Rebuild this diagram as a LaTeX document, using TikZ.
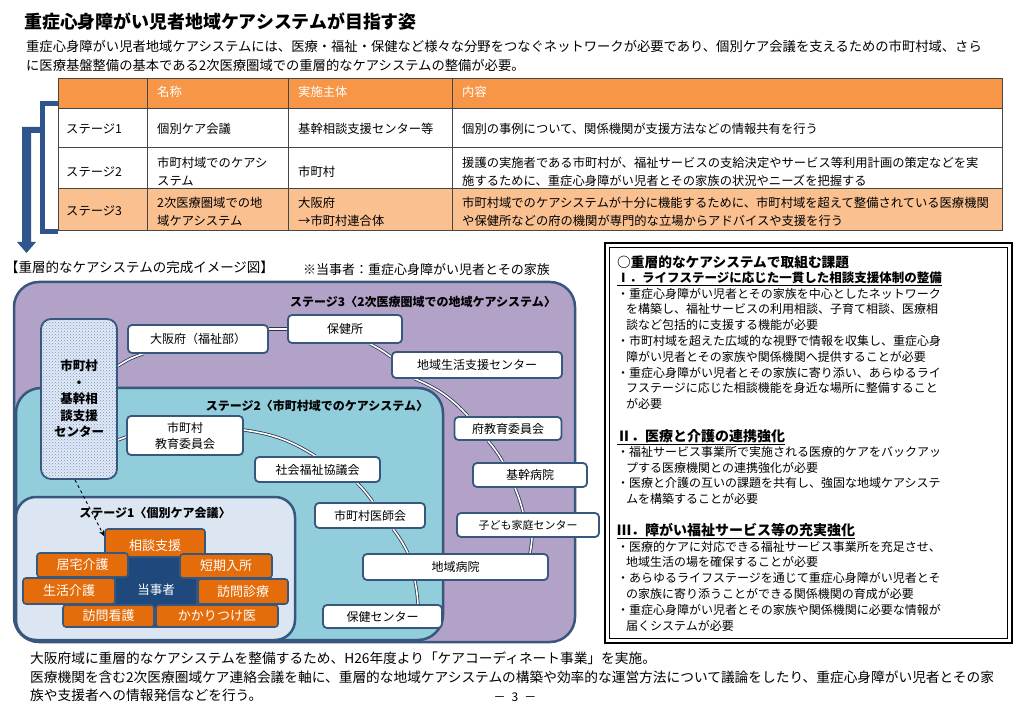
\documentclass[tikz,border=0pt]{standalone}
\usepackage{fontspec}
\setmainfont{Noto Sans CJK JP}
\usetikzlibrary{patterns,arrows.meta,calc}
\pgfdeclarelayer{bg}
\pgfdeclarelayer{panel}
\pgfdeclarelayer{lines}
\pgfsetlayers{bg,panel,lines,main}
\definecolor{hdr}{RGB}{247,150,70}
\definecolor{rowthree}{RGB}{250,192,144}
\definecolor{brk}{RGB}{47,85,140}
\definecolor{bd}{RGB}{56,87,125}
\definecolor{purp}{RGB}{179,162,199}
\definecolor{lblue}{RGB}{146,205,220}
\definecolor{pale}{RGB}{220,230,242}
\definecolor{orng}{RGB}{228,108,10}
\definecolor{navy}{RGB}{31,73,125}
\definecolor{dotc}{RGB}{120,150,200}
\definecolor{ctrfill}{RGB}{225,233,245}
\definecolor{gridc}{RGB}{70,70,70}
\definecolor{lnc}{RGB}{40,55,80}
\tikzset{
  fs/.style={font=\fontsize{#1}{#1}\selectfont},
  txt/.style={anchor=base west, inner sep=0pt},
  wbox/.style={draw=bd, line width=1.8pt, fill=white, rounded corners=4pt, inner sep=0pt, align=center, font=\fontsize{12}{16}\selectfont},
  obox/.style={draw=bd, line width=1.6pt, fill=orng, rounded corners=3pt, inner sep=0pt, text=white, font=\fontsize{13}{15}\selectfont},
  dline/.style={draw=lnc, double=white, double distance=1.6pt, line width=0.8pt},
  panelst/.style={draw=bd, line width=2.5pt},
}
\begin{document}
\begin{tikzpicture}[x=1pt,y=1pt]
\begin{pgfonlayer}{bg}
\fill[white] (0,0) rectangle (1023,-708);
\end{pgfonlayer}
\useasboundingbox (0,0) rectangle (1023,-708);

% ---------- title and intro
\node[txt, fs=17.9] (title) at (24,-28.8) {\bfseries 重症心身障がい児者地域ケアシステムが目指す姿};
\node[txt, fs=13.3] (intro1) at (26,-52) {重症心身障がい児者地域ケアシステムには、医療・福祉・保健など様々な分野をつなぐネットワークが必要であり、個別ケア会議を支えるための市町村域、さら};
\node[txt, fs=13.3] (intro2) at (26,-71) {に医療基盤整備の基本である2次医療圏域での重層的なケアシステムの整備が必要。};

% ---------- table
\fill[hdr] (58,-78) rectangle (1002,-108);
\fill[rowthree] (58,-188) rectangle (1002,-230);
\draw[gridc, line width=0.8pt] (58,-78) rectangle (1002,-230);
\draw[gridc, line width=0.8pt] (58,-108) -- (1002,-108) (58,-147) -- (1002,-147) (58,-188) -- (1002,-188);
\draw[gridc, line width=0.8pt] (147,-78) -- (147,-230) (288,-78) -- (288,-230) (452,-78) -- (452,-230);

\node[txt, fs=12.3, text=white] (th1) at (157,-96.7) {名称};
\node[txt, fs=12.3, text=white] (th2) at (298,-96.7) {実施主体};
\node[txt, fs=12.3, text=white] (th3) at (462,-96.7) {内容};

\node[txt, fs=12.3] (r1a) at (66,-133.7) {ステージ1};
\node[txt, fs=12.3] (r1b) at (157,-133.7) {個別ケア会議};
\node[txt, fs=12.3] (r1c) at (298,-133.7) {基幹相談支援センター等};
\node[txt, fs=12.3] (r1d) at (462,-133.7) {個別の事例について、関係機関が支援方法などの情報共有を行う};

\node[txt, fs=12.3] (r2a) at (66,-176.7) {ステージ2};
\node[txt, fs=12.3] (r2b) at (157,-167.7) {市町村域でのケアシ};
\node[txt, fs=12.3] (r2bb) at (157,-185.7) {ステム};
\node[txt, fs=12.3] (r2c) at (298,-176.7) {市町村};
\node[txt, fs=12.3] (r2d) at (462,-167.7) {援護の実施者である市町村が、福祉サービスの支給決定やサービス等利用計画の策定などを実};
\node[txt, fs=12.3] (r2dd) at (462,-185.7) {施するために、重症心身障がい児者とその家族の状況やニーズを把握する};

\node[txt, fs=12.3] (r3a) at (66,-215.7) {ステージ3};
\node[txt, fs=12.3] (r3b) at (157,-207.7) {2次医療圏域での地};
\node[txt, fs=12.3] (r3bb) at (157,-225.7) {域ケアシステム};
\node[txt, fs=12.3] (r3c) at (298,-207.7) {大阪府};
\node[txt, fs=12.3] (r3cc) at (298,-225.7) {→市町村連合体};
\node[txt, fs=12.3] (r3d) at (462,-207.7) {市町村域でのケアシステムが十分に機能するために、市町村域を超えて整備されている医療機関};
\node[txt, fs=12.3] (r3dd) at (462,-225.7) {や保健所などの府の機関が専門的な立場からアドバイスや支援を行う};

% ---------- brackets
\draw[brk, line width=5pt] (58,-104) -- (42.5,-104) -- (42.5,-232) -- (58,-232);
\fill[brk] (42,-127) -- (22,-127) -- (22,-242) -- (17,-242) -- (26.5,-253) -- (36,-242) -- (31,-242) -- (31,-133) -- (42,-133) -- cycle;

% ---------- diagram captions
\node[txt, fs=13.5] (imglbl) at (5,-273) {【重層的なケアシステムの完成イメージ図】};
\node[txt, fs=13] (note) at (303,-274.9) {※当事者：重症心身障がい児者とその家族};

% ---------- panels
\begin{pgfonlayer}{panel}
\draw[panelst, fill=purp, rounded corners=25pt] (14,-282) rectangle (575,-642);
\draw[panelst, fill=lblue, rounded corners=25pt] (16,-388) rectangle (443,-640);
\draw[panelst, fill=pale, rounded corners=20pt] (16,-497) rectangle (295,-640);
\end{pgfonlayer}

\node[fs=12, inner sep=0pt] (s3) at (423,-302) {\bfseries ステージ3〈2次医療圏域での地域ケアシステム〉};
\node[fs=12, inner sep=0pt] (s2) at (317,-406) {\bfseries ステージ2〈市町村域でのケアシステム〉};
\node[fs=12, inner sep=0pt] (s1) at (155,-513) {\bfseries ステージ1〈個別ケア会議〉};

% ---------- centre box
\node[draw=bd, line width=1.8pt, rounded corners=10pt, preaction={fill=ctrfill}, pattern=crosshatch dots, pattern color=dotc,
      minimum width=76pt, minimum height=160pt, inner sep=0pt, align=center, font=\fontsize{12.5}{16.5}\selectfont\bfseries] (ctr) at (79,-399) {市町村\\・\\基幹相\\談支援\\センター};

% ---------- white boxes
\node[wbox, minimum width=140pt, minimum height=28pt] (osaka) at (198,-339) {大阪府（福祉部）};
\node[wbox, minimum width=114pt, minimum height=28pt] (hokenjo) at (345,-329) {保健所};
\node[wbox, minimum width=170pt, minimum height=26pt] (chiiki) at (477,-365) {地域生活支援センター};
\node[wbox, minimum width=107pt, minimum height=23pt] (futoku) at (508,-428.5) {府教育委員会};
\node[wbox, minimum width=114pt, minimum height=24pt] (kikan) at (530,-475) {基幹病院};
\node[wbox, minimum width=142pt, minimum height=24pt, font=\fontsize{11}{13}\selectfont] (kodomo) at (528,-525) {子ども家庭センター};
\node[wbox, minimum width=116pt, minimum height=39pt] (kyoiku) at (185,-435.5) {市町村\\教育委員会};
\node[wbox, minimum width=125pt, minimum height=25pt] (shakyo) at (317.5,-469.5) {社会福祉協議会};
\node[wbox, minimum width=110pt, minimum height=25pt] (ishikai) at (370,-515.5) {市町村医師会};
\node[wbox, minimum width=185pt, minimum height=26pt] (chibyo) at (455.5,-567) {地域病院};
\node[wbox, minimum width=119pt, minimum height=23pt] (hcenter) at (382.5,-616.5) {保健センター};

% ---------- stage 1 boxes
\node[obox, minimum width=100pt, minimum height=33pt] (soudan) at (155,-545.5) {相談支援};
\node[obox, fill=navy, rounded corners=2pt, minimum width=82pt, minimum height=70pt, font=\fontsize{12.5}{15}\selectfont] (tojisha) at (156,-592) {\raisebox{6pt}{当事者}};
\node[obox, minimum width=91pt, minimum height=24pt] (kyotaku) at (82.5,-565) {居宅介護};
\node[obox, minimum width=92pt, minimum height=24pt] (tanki) at (226,-566) {短期入所};
\node[obox, minimum width=92pt, minimum height=26pt] (seikatsu) at (69,-591) {生活介護};
\node[obox, minimum width=90pt, minimum height=25pt] (shinryo) at (243,-591.5) {訪問診療};
\node[obox, minimum width=91pt, minimum height=22pt] (kango) at (108.5,-616) {訪問看護};
\node[obox, minimum width=122pt, minimum height=22pt] (kakari) at (217,-616) {かかりつけ医};

\draw[dashed, line width=0.9pt, -{Stealth[length=6pt,width=5pt]}] ([xshift=-4pt]ctr.south) -- ([yshift=-8pt]soudan.north west);

% ---------- connectors
\begin{pgfonlayer}{lines}
\draw[dline] ([yshift=33pt]ctr.east) to[bend left=8] ([xshift=-55pt]osaka.south);
\draw[dline] ([yshift=10pt]osaka.east) -- (hokenjo.west);
\draw[dline] ([xshift=25pt]hokenjo.south) to[bend left=5] ([yshift=8pt]chiiki.west);
\draw[dline] ([xshift=-62pt]chiiki.south) to[bend left=12] ([xshift=-40pt]futoku.north);
\draw[dline] ([xshift=-20pt]futoku.south) to[bend left=5] ([xshift=-27pt]kikan.north);
\draw[dline] ([xshift=-15pt]kikan.south) to[bend left=4] ([xshift=-5pt]kodomo.north);
\draw[dline] ([xshift=4pt]kodomo.south) to[bend left=3] ([xshift=74.5pt]chibyo.north);
\draw[dline] ([yshift=-41pt]ctr.east) -- ([yshift=-1.5pt]kyoiku.west);
\draw[dline] ([yshift=5.5pt]kyoiku.east) to[bend left=12] ([xshift=-2pt]shakyo.north);
\draw[dline] ([xshift=39.5pt]shakyo.south) to[bend left=5] ([xshift=3pt]ishikai.north);
\draw[dline] ([xshift=23pt]ishikai.south) to[bend left=5] ([xshift=-47.5pt]chibyo.north);
\draw[dline] ([xshift=-40.5pt]chibyo.south) to[bend left=3] ([xshift=35.5pt]hcenter.north);
\end{pgfonlayer}

% ---------- right box
\draw[line width=2pt] (605,-243) rectangle (1012,-643);
\draw[line width=0.8pt] (609.5,-247.5) rectangle (1007.5,-638.5);
\node[txt, fs=13.7] (q0) at (617,-267.2) {\bfseries ○重層的なケアシステムで取組む課題};
\node[txt, fs=12.5] (q1) at (617,-282.6) {\underline{\bfseries Ⅰ．ライフステージに応じた一貫した相談支援体制の整備}};
\node[txt, fs=12] (q2) at (617,-298.2) {・重症心身障がい児者とその家族を中心としたネットワーク};
\node[txt, fs=12] (q3) at (617,-314) {\hspace*{9pt}を構築し、福祉サービスの利用相談、子育て相談、医療相};
\node[txt, fs=12] (q4) at (617,-329.8) {\hspace*{9pt}談など包括的に支援する機能が必要};
\node[txt, fs=12] (q5) at (617,-345.6) {・市町村域を超えた広域的な視野で情報を収集し、重症心身};
\node[txt, fs=12] (q6) at (617,-361.4) {\hspace*{9pt}障がい児者とその家族や関係機関へ提供することが必要};
\node[txt, fs=12] (q7) at (617,-377.2) {・重症心身障がい児者とその家族に寄り添い、あらゆるライ};
\node[txt, fs=12] (q8) at (617,-393) {\hspace*{9pt}フステージに応じた相談機能を身近な場所に整備すること};
\node[txt, fs=12] (q9) at (617,-408.8) {\hspace*{9pt}が必要};
\node[txt, fs=14] (q10) at (617,-441.1) {\underline{\bfseries Ⅱ．医療と介護の連携強化}};
\node[txt, fs=12] (q11) at (617,-456.2) {・福祉サービス事業所で実施される医療的ケアをバックアッ};
\node[txt, fs=12] (q12) at (617,-472) {\hspace*{9pt}プする医療機関との連携強化が必要};
\node[txt, fs=12] (q13) at (617,-487.8) {・医療と介護の互いの課題を共有し、強固な地域ケアシステ};
\node[txt, fs=12] (q14) at (617,-503.6) {\hspace*{9pt}ムを構築することが必要};
\node[txt, fs=14] (q15) at (617,-535.9) {\underline{\bfseries Ⅲ．障がい福祉サービス等の充実強化}};
\node[txt, fs=12] (q16) at (617,-551) {・医療的ケアに対応できる福祉サービス事業所を充足させ、};
\node[txt, fs=12] (q17) at (617,-566.8) {\hspace*{9pt}地域生活の場を確保することが必要};
\node[txt, fs=12] (q18) at (617,-582.6) {・あらゆるライフステージを通じて重症心身障がい児者とそ};
\node[txt, fs=12] (q19) at (617,-598.4) {\hspace*{9pt}の家族に寄り添うことができる関係機関の育成が必要};
\node[txt, fs=12] (q20) at (617,-614.2) {・重症心身障がい児者とその家族や関係機関に必要な情報が};
\node[txt, fs=12] (q21) at (617,-630) {\hspace*{9pt}届くシステムが必要};

% ---------- bottom text
\node[txt, fs=13.7] (b1) at (30,-663) {大阪府域に重層的なケアシステムを整備するため、H26年度より「ケアコーディネート事業」を実施。};
\node[txt, fs=13.7] (b2) at (30,-682) {医療機関を含む2次医療圏域ケア連絡会議を軸に、重層的な地域ケアシステムの構築や効率的な運営方法について議論をしたり、重症心身障がい児者とその家};
\node[txt, fs=13.7] (b3) at (30,-700) {族や支援者への情報発信などを行う。};
\node[fs=12, inner sep=0pt] (pg) at (515,-697) {－\hspace{6pt}3\hspace{6pt}－};
\end{tikzpicture}
\end{document}
